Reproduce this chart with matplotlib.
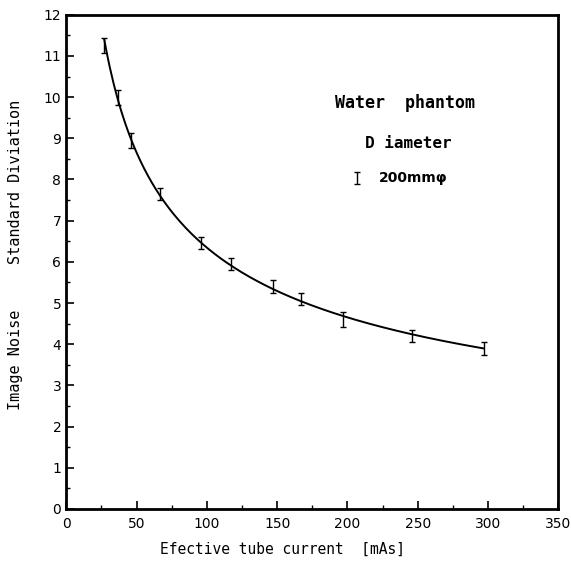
import numpy as np
import matplotlib
matplotlib.use("Agg")
import matplotlib.pyplot as plt

current_mas = [27, 37, 46, 67, 96, 117, 147, 167, 197, 246, 297]
noise_sd = [11.25, 10.0, 8.95, 7.65, 6.45, 5.95, 5.4, 5.1, 4.6, 4.2, 3.9]
sd_err = [0.18, 0.18, 0.18, 0.15, 0.15, 0.15, 0.15, 0.15, 0.18, 0.15, 0.15]

x_ticks = [0, 50, 100, 150, 200, 250, 300, 350]
y_ticks = list(range(0, 13))

fig = plt.figure(figsize=(5.71, 5.68), dpi=100)
ax = fig.add_axes([0.116, 0.104, 0.862, 0.870])

# power-law fit through the measured points
b, a = np.polyfit(np.log(current_mas), np.log(noise_sd), 1)
xs = np.linspace(min(current_mas), max(current_mas), 200)
ax.plot(xs, np.exp(a) * xs ** b, color="black", lw=1.4)

ax.errorbar(current_mas, noise_sd, yerr=sd_err, fmt="none", ecolor="black",
            elinewidth=1.0, capsize=2.5, capthick=1.0)

ax.set_xlim(0, 350)
ax.set_ylim(0, 12)
ax.set_xticks(x_ticks)
ax.set_yticks(y_ticks)
ax.set_xticks(np.arange(25, 350, 50), minor=True)
ax.set_yticks(np.arange(0.5, 12, 1), minor=True)
ax.tick_params(which="major", direction="in", length=6, width=1.2, labelsize=10)
ax.tick_params(which="minor", direction="in", length=3, width=1.0)
ax.tick_params(axis="x", pad=6)
for s in ax.spines.values():
    s.set_linewidth(2)

ax.set_xlabel("Efective tube current  [mAs]", family="DejaVu Sans Mono", fontsize=10.5)
ax.xaxis.set_label_coords(0.44, -0.067)
ax.set_ylabel("Image Noise     Standard Diviation", family="DejaVu Sans Mono",
              fontsize=11)
ax.yaxis.set_label_coords(-0.088, 0.514)

ax.text(241, 9.85, "Water  phantom", ha="center", va="center", fontsize=12,
        fontweight="bold", family="DejaVu Sans Mono")
ax.text(243, 8.88, "D iameter", ha="center", va="center", fontsize=11.5,
        fontweight="bold", family="DejaVu Sans Mono")
ax.errorbar([207], [8.03], yerr=[0.15], fmt="none", ecolor="black",
            elinewidth=1.0, capsize=2.5, capthick=1.0)
ax.text(222, 8.03, "200mmφ", ha="left", va="center", fontsize=10,
        fontweight="bold", family="DejaVu Sans")

fig.savefig("out.png", dpi=100)
